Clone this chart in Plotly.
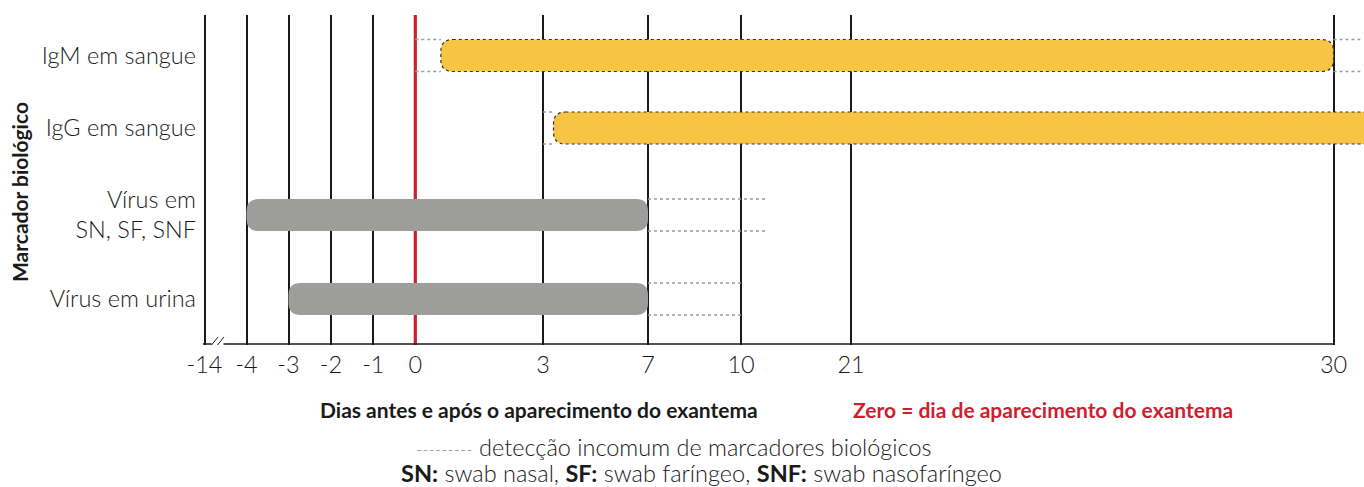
import plotly.graph_objects as go

# ---------------- data ----------------
markers = ["IgM em sangue", "IgG em sangue", "Vírus em<br>SN, SF, SNF", "Vírus em urina"]
start_day = [0.6, 3.4, -4, -3]
end_day = [30, 32, 7, 7]
bar_kind = ["anticorpo", "anticorpo", "virus", "virus"]
uncommon_before = [[0, 0.6], [3, 3.4], None, None]
uncommon_after = [[30, 30.5], None, [7, 12.5], [7, 10]]
tick_days = [-14, -4, -3, -2, -1, 0, 3, 7, 10, 21, 30]
tick_labels = [str(d) for d in tick_days]

# ---------------- layout / scale (non-linear day axis) ----------------
W, H = 1364, 487
PLOT_L, PLOT_T, PLOT_B = 203, 15, 345
tick_pos = [204.5, 246.5, 288.5, 331, 373.3, 415.3, 543, 648, 741, 851, 1333.5]
row_pos = [55.5, 128, 215, 299]
HALF_H = 16
R = 12

def xpos(day):
    if day <= tick_days[0]:
        return tick_pos[0]
    for i in range(len(tick_days) - 1):
        d0, d1 = tick_days[i], tick_days[i + 1]
        if d0 <= day <= d1:
            return tick_pos[i] + (day - d0) / (d1 - d0) * (tick_pos[i + 1] - tick_pos[i])
    slope = (tick_pos[-1] - tick_pos[-2]) / (tick_days[-1] - tick_days[-2])
    return tick_pos[-1] + (day - tick_days[-1]) * slope

def px_x(px):
    return (px - PLOT_L) / (W - PLOT_L)

def px_y(py):
    return (PLOT_B - py) / (PLOT_B - PLOT_T)

def rounded_path(x0, x1, y0, y1, r):
    return (f"M {x0+r},{y0} L {x1-r},{y0} Q {x1},{y0} {x1},{y0+r} "
            f"L {x1},{y1-r} Q {x1},{y1} {x1-r},{y1} L {x0+r},{y1} "
            f"Q {x0},{y1} {x0},{y1-r} L {x0},{y0+r} Q {x0},{y0} {x0+r},{y0} Z")

YELLOW = "#F7C443"
GREY = "#9D9D9B"
RED = "#CC1F2F"
TXT = "#1a1a1a"
LIGHT = dict(family="Lato", size=23.5, color=TXT, weight=300)
BOLD_SIZE = 21

fig = go.Figure()
fig.add_trace(go.Scatter(x=[tick_pos[0], tick_pos[-1]], y=[row_pos[0], row_pos[-1]],
                         mode="markers", marker=dict(opacity=0), hoverinfo="skip",
                         showlegend=False))

shapes = []
shapes.append(dict(type="line", xref="x", yref="y", x0=xpos(0), x1=xpos(0),
                   y0=PLOT_T, y1=PLOT_B, line=dict(color=RED, width=3.2)))
shapes.append(dict(type="line", xref="x", yref="y", x0=PLOT_L, x1=211.5, y0=344, y1=344,
                   line=dict(color=TXT, width=1.5)))
shapes.append(dict(type="line", xref="x", yref="y", x0=223.5, x1=xpos(30), y0=344, y1=344,
                   line=dict(color=TXT, width=1.5)))
shapes.append(dict(type="line", xref="x", yref="y", x0=211.5, x1=218, y0=345, y1=337,
                   line=dict(color=TXT, width=1)))
shapes.append(dict(type="line", xref="x", yref="y", x0=217.5, x1=224, y0=345, y1=337,
                   line=dict(color=TXT, width=1)))

for i in range(len(markers)):
    yc = row_pos[i]
    y0, y1 = yc - HALF_H, yc + HALF_H
    for seg in (uncommon_before[i], uncommon_after[i]):
        if seg is None:
            continue
        for yy in (y0, y1):
            shapes.append(dict(type="line", xref="x", yref="y",
                               x0=xpos(seg[0]), x1=xpos(seg[1]), y0=yy, y1=yy,
                               line=dict(color="#9a9a9a", width=1.3, dash="dot")))
    x0, x1 = xpos(start_day[i]), xpos(end_day[i])
    if bar_kind[i] == "anticorpo":
        shapes.append(dict(type="path", xref="x", yref="y", path=rounded_path(x0, x1, y0, y1, R),
                           fillcolor=YELLOW, line=dict(color="#333333", width=1.2, dash="dot")))
    else:
        shapes.append(dict(type="path", xref="x", yref="y", path=rounded_path(x0, x1, y0, y1, R),
                           fillcolor=GREY, line=dict(width=0)))

annotations = [
    dict(text="<b>Dias antes e após o aparecimento do exantema</b>", x=px_x(539), y=px_y(409),
         xref="paper", yref="paper", showarrow=False, xanchor="center", yanchor="middle",
         font=dict(family="Lato", size=BOLD_SIZE, color=TXT)),
    dict(text="<b>Zero = dia de aparecimento do exantema</b>", x=px_x(1043), y=px_y(409),
         xref="paper", yref="paper", showarrow=False, xanchor="center", yanchor="middle",
         font=dict(family="Lato", size=BOLD_SIZE, color=RED)),
    dict(text="<b>Marcador biológico</b>", x=px_x(19), y=px_y(192),
         xref="paper", yref="paper", showarrow=False, textangle=-90,
         xanchor="center", yanchor="middle",
         font=dict(family="Lato", size=BOLD_SIZE, color=TXT)),
    dict(text="<span style='color:#8a8a8a;font-size:17px'>---------</span> detecção incomum de marcadores biológicos",
         x=px_x(674), y=px_y(447), xref="paper", yref="paper", showarrow=False,
         xanchor="center", yanchor="middle", font=LIGHT),
    dict(text="<b>SN:</b> swab nasal, <b>SF:</b> swab faríngeo, <b>SNF:</b> swab nasofaríngeo",
         x=px_x(701), y=px_y(473), xref="paper", yref="paper", showarrow=False,
         xanchor="center", yanchor="middle", font=LIGHT),
]

fig.update_layout(
    width=W, height=H,
    margin=dict(l=PLOT_L, r=0, t=PLOT_T, b=H - PLOT_B),
    plot_bgcolor="white", paper_bgcolor="white",
    showlegend=False,
    shapes=shapes, annotations=annotations,
    xaxis=dict(range=[PLOT_L, W], tickmode="array", tickvals=tick_pos, ticktext=tick_labels,
               showgrid=True, gridcolor=TXT, gridwidth=1.5, zeroline=False,
               showline=False, ticks="", ticklabelstandoff=3, tickfont=LIGHT,
               fixedrange=True),
    yaxis=dict(range=[PLOT_B, PLOT_T], tickmode="array", tickvals=row_pos, ticktext=markers,
               showgrid=False, zeroline=False, showline=False, ticks="",
               ticklabelstandoff=6, tickfont=LIGHT, fixedrange=True),
)

fig.write_html("out.html", config={"displayModeBar": False},
               post_script="document.body.style.margin='0';document.body.style.overflow='hidden';")
